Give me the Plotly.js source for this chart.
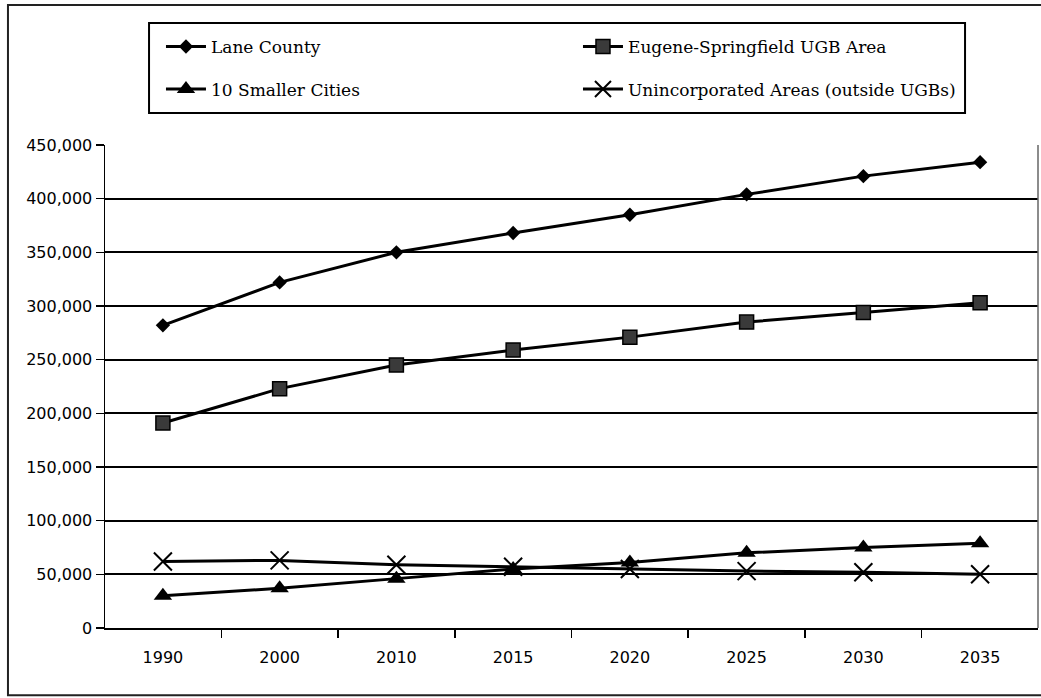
<!DOCTYPE html>
<html>
<head>
<meta charset="utf-8">
<script src="https://cdn.plot.ly/plotly-3.0.1.min.js"></script>
<style>
  html, body { margin: 0; padding: 0; background: #fff; }
  #chart { width: 1041px; height: 698px; }
</style>
</head>
<body>
<div id="chart"></div>
<script>
// Population forecast for Lane County and its sub-areas
const years = ['1990', '2000', '2010', '2015', '2020', '2025', '2030', '2035'];
const laneCounty = [282000, 322000, 350000, 368000, 385000, 404000, 421000, 434000];
const eugeneSpringfield = [191000, 223000, 245000, 259000, 271000, 285000, 294000, 303000];
const smallerCities = [30000, 37000, 46000, 55000, 61000, 70000, 75000, 79000];
const unincorporated = [62000, 63000, 59000, 57000, 55000, 53000, 52000, 50000];
const yTicks = [0, 50000, 100000, 150000, 200000, 250000, 300000, 350000, 400000, 450000];

const lineStyle = { color: '#000', width: 3 };

const traces = [
  {
    name: 'Lane County', x: years, y: laneCounty, type: 'scatter', mode: 'lines+markers',
    line: lineStyle, marker: { symbol: 'diamond', size: 11, color: '#000' },
    legend: 'legend'
  },
  {
    name: 'Eugene-Springfield UGB Area', x: years, y: eugeneSpringfield, type: 'scatter', mode: 'lines+markers',
    line: lineStyle, marker: { symbol: 'square', size: 14, color: '#3a3a3a', line: { color: '#000', width: 1.5 } },
    legend: 'legend'
  },
  {
    name: '10 Smaller Cities', x: years, y: smallerCities, type: 'scatter', mode: 'lines+markers',
    line: lineStyle, marker: { symbol: 'triangle-up', size: 16, color: '#000' },
    legend: 'legend2'
  },
  {
    name: 'Unincorporated Areas (outside UGBs)', x: years, y: unincorporated, type: 'scatter', mode: 'lines+markers',
    line: lineStyle, marker: { symbol: 'x-thin-open', size: 18, color: '#000', line: { color: '#000', width: 2 } },
    legend: 'legend2'
  }
];

const legendCommon = {
  orientation: 'h',
  xanchor: 'left',
  yanchor: 'middle',
  x: 0.06,
  bgcolor: 'rgba(0,0,0,0)',
  borderwidth: 0,
  entrywidth: 362,
  entrywidthmode: 'pixels',
  itemwidth: 40,
  font: { family: 'DejaVu Serif', size: 17, color: '#000' }
};

const layout = {
  width: 1041,
  height: 698,
  margin: { l: 105, r: 3, t: 145, b: 70 },
  paper_bgcolor: '#fff',
  plot_bgcolor: '#fff',
  showlegend: true,
  legend: Object.assign({}, legendCommon, { y: 1.203 }),
  legend2: Object.assign({}, legendCommon, { y: 1.115 }),
  xaxis: {
    type: 'category',
    showgrid: false,
    showline: true,
    linecolor: '#000',
    linewidth: 2,
    ticks: 'outside',
    tickson: 'boundaries',
    ticklen: 8,
    tickwidth: 1.5,
    tickcolor: '#000',
    ticklabelstandoff: 14,
    tickfont: { family: 'DejaVu Sans', size: 16, color: '#000' }
  },
  yaxis: {
    range: [0, 450000],
    tickvals: yTicks,
    tickformat: ',d',
    showgrid: true,
    gridcolor: '#000',
    gridwidth: 2,
    zeroline: false,
    showline: true,
    linecolor: '#000',
    linewidth: 1.5,
    ticks: 'outside',
    ticklen: 8,
    tickwidth: 1.5,
    tickcolor: '#000',
    tickfont: { family: 'DejaVu Sans', size: 16, color: '#000' }
  },
  shapes: [
    // right edge of the plotting area
    { type: 'line', xref: 'paper', yref: 'paper', x0: 1, x1: 1, y0: 0, y1: 1,
      line: { color: '#666', width: 1.5 } },
    // legend frame
    { type: 'rect', xref: 'paper', yref: 'paper', x0: 0.0472, x1: 0.9218, y0: 1.0663, y1: 1.2526,
      line: { color: '#000', width: 2 }, fillcolor: 'rgba(0,0,0,0)' },
    // outer chart frame
    { type: 'rect', xref: 'paper', yref: 'paper', x0: -0.104, x1: 1.01, y0: -0.139, y1: 1.29,
      line: { color: '#222', width: 2 }, fillcolor: 'rgba(0,0,0,0)' }
  ]
};

Plotly.newPlot('chart', traces, layout, { displayModeBar: false, staticPlot: true });
</script>
</body>
</html>
